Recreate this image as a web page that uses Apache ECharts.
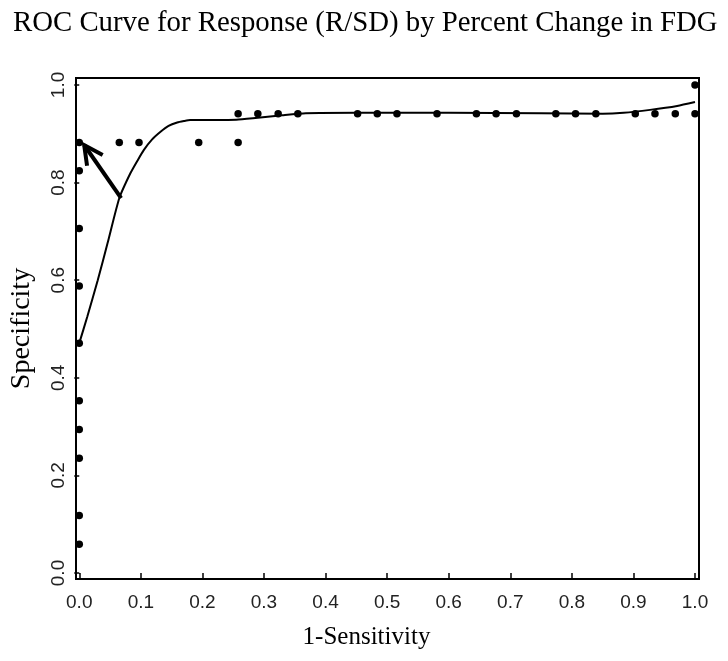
<!DOCTYPE html>
<html>
<head>
<meta charset="utf-8">
<script src="https://cdn.jsdelivr.net/npm/echarts@6/dist/echarts.min.js"></script>
<style>
	html, body { margin: 0; padding: 0; background: #fff; }
	#chart { width: 728px; height: 661px; }
</style>
</head>
<body>
<div id="chart"></div>
<script>
	/*observed points: 1-sensitivity and specificity*/
	var pointX = [0, 0, 0, 0, 0, 0, 0, 0, 0, 0,
		0.065, 0.097, 0.194, 0.258,
		0.258, 0.290, 0.323, 0.355, 0.452, 0.484, 0.516, 0.581, 0.645, 0.677,
		0.710, 0.774, 0.806, 0.839, 0.903, 0.935, 0.968, 1.0,
		1.0]
	var pointY = [0.059, 0.118, 0.235, 0.294, 0.353, 0.471, 0.588, 0.706, 0.824, 0.882,
		0.882, 0.882, 0.882, 0.882,
		0.941, 0.941, 0.941, 0.941, 0.941, 0.941, 0.941, 0.941, 0.941, 0.941,
		0.941, 0.941, 0.941, 0.941, 0.941, 0.941, 0.941, 0.941,
		1.0]

	/*fitted curve*/
	var curveX = [0, 0.013, 0.030, 0.046, 0.065, 0.083, 0.095, 0.105, 0.118, 0.132,
		0.145, 0.159, 0.170, 0.180, 0.200, 0.229, 0.255, 0.282, 0.330, 0.368,
		0.450, 0.600, 0.750, 0.850, 0.884, 0.927, 0.971, 1.0]
	var curveY = [0.471, 0.525, 0.600, 0.676, 0.768, 0.819, 0.846, 0.867, 0.888, 0.904,
		0.916, 0.923, 0.926, 0.928, 0.928, 0.928, 0.929, 0.932, 0.938, 0.942,
		0.943, 0.943, 0.942, 0.941, 0.943, 0.949, 0.957, 0.965]

	/*arrow: from, to*/
	var arrowFrom = [0.068, 0.768]
	var arrowTo = [0.008, 0.877]

	var tickValues = [0, 0.1, 0.2, 0.3, 0.4, 0.5, 0.6, 0.7, 0.8, 0.9, 1.0]
	var yTickValues = [0, 0.2, 0.4, 0.6, 0.8, 1.0]

	var chart = echarts.init(document.getElementById('chart'))

	var scatterData = []
	pointX.forEach(function (x, i) {
		scatterData.push([x, pointY[i]])
	})
	var curveData = []
	curveX.forEach(function (x, i) {
		curveData.push([x, curveY[i]])
	})

	chart.setOption({
		animation: false,
		title: {
			text: 'ROC Curve for Response (R/SD) by Percent Change in FDG',
			left: 8,
			top: 4,
			textStyle: {
				fontFamily: 'Liberation Serif',
				fontWeight: 'normal',
				fontSize: 28.8,
				color: '#000'
			}
		},
		grid: {
			left: 71,
			right: 29,
			top: 78,
			bottom: 82,
			show: true,
			borderColor: '#000',
			borderWidth: 2,
			backgroundColor: '#fff'
		},
		xAxis: {
			type: 'value',
			min: -0.0053,
			max: 1.0065,
			name: '1-Sensitivity',
			nameLocation: 'middle',
			nameGap: 46,
			nameTextStyle: {
				fontFamily: 'Liberation Serif',
				fontSize: 25,
				color: '#000',
				padding: [0, 42, 0, 0]
			},
			axisLine: { show: false },
			splitLine: { show: false },
			axisTick: {
				show: true,
				length: 5,
				customValues: tickValues,
				lineStyle: { color: '#000', width: 1.5 }
			},
			axisLabel: {
				customValues: tickValues,
				margin: 14,
				fontFamily: 'Liberation Sans',
				fontSize: 19,
				color: '#222',
				formatter: function (v) { return v.toFixed(1) }
			}
		},
		yAxis: {
			type: 'value',
			min: -0.0123,
			max: 1.0143,
			name: 'Specificity',
			nameLocation: 'middle',
			nameGap: 40,
			nameTextStyle: {
				fontFamily: 'Liberation Serif',
				fontSize: 28,
				color: '#000'
			},
			axisLine: { show: false },
			splitLine: { show: false },
			axisTick: {
				show: true,
				length: 5,
				customValues: yTickValues,
				lineStyle: { color: '#000', width: 1.5 }
			},
			axisLabel: {
				customValues: yTickValues,
				rotate: 90,
				margin: 8,
				fontFamily: 'Liberation Sans',
				fontSize: 19,
				color: '#222',
				formatter: function (v) { return v.toFixed(1) }
			}
		},
		series: [{
			type: 'line',
			data: curveData,
			smooth: 0.2,
			showSymbol: false,
			lineStyle: { color: '#000', width: 2 }
		}, {
			type: 'scatter',
			data: scatterData,
			symbolSize: 7.5,
			itemStyle: { color: '#000', opacity: 1 }
		}, {
			type: 'custom',
			encode: { x: [0, 2], y: [1, 3] },
			data: [[arrowFrom[0], arrowFrom[1], arrowTo[0], arrowTo[1]]],
			renderItem: function (params, api) {
				var s = api.coord([api.value(0), api.value(1)])
				var t = api.coord([api.value(2), api.value(3)])
				var ang = Math.atan2(s[1] - t[1], s[0] - t[0])
				var len = 21, spread = 0.47
				var a1 = [t[0] + len * Math.cos(ang - spread), t[1] + len * Math.sin(ang - spread)]
				var a2 = [t[0] + len * Math.cos(ang + spread), t[1] + len * Math.sin(ang + spread)]
				return {
					type: 'group',
					children: [{
						type: 'line',
						shape: { x1: s[0], y1: s[1], x2: t[0], y2: t[1] },
						style: { stroke: '#000', lineWidth: 4 }
					}, {
						type: 'polyline',
						shape: { points: [a1, t, a2] },
						style: { stroke: '#000', lineWidth: 4, fill: null }
					}]
				}
			}
		}]
	})
</script>
</body>
</html>
